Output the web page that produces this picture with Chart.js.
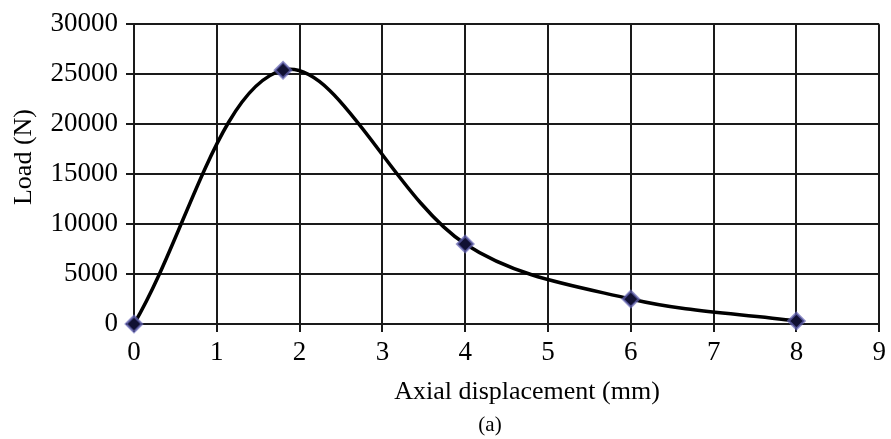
<!DOCTYPE html>
<html>
<head>
<meta charset="utf-8">
<script src="https://cdn.jsdelivr.net/npm/chart.js@4.4.1/dist/chart.umd.min.js"></script>
<style>
  html, body { margin: 0; padding: 0; background: #fff; }
  #wrap { width: 891px; height: 439px; position: relative; }
</style>
</head>
<body>
<div id="wrap"><canvas id="loadChart"></canvas></div>
<script>
const dispMm = [0, 1.8, 4, 6, 8];
const loadN = [0, 25400, 8000, 2500, 300];
const xTickValues = [0, 1, 2, 3, 4, 5, 6, 7, 8, 9];
const yTickValues = [0, 5000, 10000, 15000, 20000, 25000, 30000];

const xTitle = 'Axial displacement (mm)';
const yTitle = 'Load (N)';
const caption = '(a)';

const serif = "'Liberation Serif', 'Times New Roman', serif";
const gridCol = '#1a1a1a';

// the titles sit a little off-centre in the original, so draw them by hand
const captionsPlugin = {
    id: 'captions',
    afterDraw: function(chart) {
        var ctx = chart.ctx;
        ctx.save();
        ctx.fillStyle = '#000';
        ctx.textAlign = 'center';
        ctx.textBaseline = 'alphabetic';
        ctx.font = '26px ' + serif;
        ctx.fillText(xTitle, 527, 399);
        ctx.font = '21px ' + serif;
        ctx.fillText(caption, 490, 431);
        ctx.translate(31, 157);
        ctx.rotate(-Math.PI / 2);
        ctx.font = '26px ' + serif;
        ctx.fillText(yTitle, 0, 0);
        ctx.restore();
    }
};

document.addEventListener("DOMContentLoaded", function() {
    var canvas = document.getElementById("loadChart");
    var points = dispMm.map(function(x, i) { return { x: x, y: loadN[i] }; });

    new Chart(canvas, {
        type: 'scatter',
        data: {
            datasets: [{
                label: "Load",
                data: points,
                showLine: true,
                clip: false,
                tension: 0.35,
                borderColor: '#000',
                borderWidth: 3.5,
                pointStyle: 'rectRot',
                pointRadius: 8,
                pointBackgroundColor: '#111133',
                pointBorderColor: 'rgba(100, 100, 180, 0.7)',
                pointBorderWidth: 2.5
            }]
        },
        options: {
            responsive: true,
            maintainAspectRatio: false,
            animation: false,
            layout: { padding: { left: 0, right: 9, top: 24, bottom: 0 } },
            scales: {
                x: {
                    type: 'linear',
                    min: 0,
                    max: 9,
                    afterBuildTicks: function(axis) {
                        axis.ticks = xTickValues.map(function(v) { return { value: v }; });
                    },
                    afterFit: function(axis) { axis.height = 115; },
                    grid: { color: gridCol, lineWidth: 2, tickLength: 8, tickColor: gridCol },
                    border: { display: false },
                    ticks: {
                        color: '#000', padding: 5, font: { family: serif, size: 27 },
                        callback: function(v) { return String(v); }
                    }
                },
                y: {
                    min: 0,
                    max: 30000,
                    afterBuildTicks: function(axis) {
                        axis.ticks = yTickValues.map(function(v) { return { value: v }; });
                    },
                    afterFit: function(axis) { axis.width = 134; },
                    grid: { color: gridCol, lineWidth: 2, tickLength: 8, tickColor: gridCol },
                    border: { display: false },
                    ticks: {
                        color: '#000', padding: 8, font: { family: serif, size: 27 },
                        callback: function(v) { return String(v); }
                    }
                }
            },
            plugins: {
                legend: { display: false },
                tooltip: { enabled: false }
            }
        },
        plugins: [captionsPlugin]
    });
});
</script>
</body>
</html>
